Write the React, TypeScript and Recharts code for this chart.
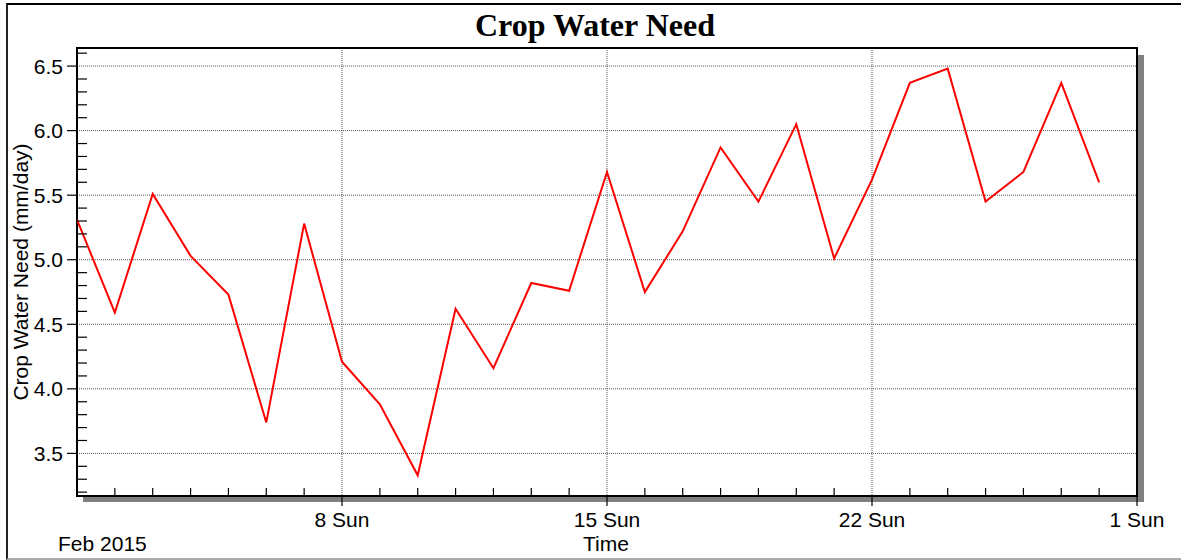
import { LineChart, Line, XAxis, YAxis, CartesianGrid, ReferenceArea } from "recharts"

// days of Feb 2015
const days = [1, 2, 3, 4, 5, 6, 7, 8, 9, 10, 11, 12, 13, 14, 15, 16, 17, 18, 19, 20, 21, 22, 23, 24, 25, 26, 27, 28]
const waterNeed = [
  5.31, 4.59, 5.51, 5.03, 4.73, 3.74, 5.28, 4.21, 3.88, 3.33, 4.62, 4.16, 4.82, 4.76,
  5.68, 4.75, 5.22, 5.87, 5.45, 6.05, 5.01, 5.62, 6.37, 6.48, 5.45, 5.68, 6.37, 5.6
]

const xTicks = [2, 3, 4, 5, 6, 7, 8, 9, 10, 11, 12, 13, 14, 15, 16, 17, 18, 19, 20, 21, 22, 23, 24, 25, 26, 27, 28, 29]
const xMajor = [8, 15, 22, 29]
const xMajorLabels = ["8 Sun", "15 Sun", "22 Sun", "1 Sun"]

const yTicks = [3.2, 3.3, 3.4, 3.5, 3.6, 3.7, 3.8, 3.9, 4.0, 4.1, 4.2, 4.3, 4.4, 4.5, 4.6, 4.7, 4.8, 4.9, 5.0, 5.1, 5.2, 5.3, 5.4, 5.5, 5.6, 5.7, 5.8, 5.9, 6.0, 6.1, 6.2, 6.3, 6.4, 6.5, 6.6]
const yMajor = [3.5, 4.0, 4.5, 5.0, 5.5, 6.0, 6.5]
const yDomain = [3.17, 6.64]

const data = days.map((d, i) => ({ day: d, need: waterNeed[i] }))

const sans = "'Liberation Sans', Arial, sans-serif"

const XTick = (props: any) => {
  const { x, y, payload } = props
  const idx = xMajor.indexOf(payload.value)
  if (idx >= 0) {
    return (
      <g>
        <line x1={x} x2={x} y1={y} y2={y + 10} stroke="#000" strokeWidth={1.2} />
        <text x={x} y={y + 31} textAnchor="middle" fontFamily={sans} fontSize={21} fill="#000">
          {xMajorLabels[idx]}
        </text>
      </g>
    )
  }
  return <line x1={x} x2={x} y1={y} y2={y - 8} stroke="#000" strokeWidth={1.2} />
}

const YTick = (props: any) => {
  const { x, y, payload } = props
  if (yMajor.includes(payload.value)) {
    return (
      <g>
        <line x1={x - 10} x2={x} y1={y} y2={y} stroke="#000" strokeWidth={1.2} />
        <text x={x - 14} y={y} dy="0.36em" textAnchor="end" fontFamily={sans} fontSize={21} fill="#000">
          {payload.value.toFixed(1)}
        </text>
      </g>
    )
  }
  return <line x1={x} x2={x + 10} y1={y} y2={y} stroke="#000" strokeWidth={1.2} />
}

export default function App() {
  return (
    <div style={{ position: "absolute", left: 0, top: 0, width: 1181, height: 560, background: "#fff", overflow: "hidden" }}>
      {/* frame */}
      <div style={{
        position: "absolute", left: 6, top: 3, width: 1200, height: 557, boxSizing: "border-box",
        borderTop: "2px solid #000", borderLeft: "2px solid #222", borderBottom: "2px solid #aaa"
      }} />
      {/* plot shadow */}
      <div style={{ position: "absolute", left: 1137, top: 55, width: 7, height: 447, background: "#808080" }} />
      <div style={{ position: "absolute", left: 83, top: 496, width: 1061, height: 6, background: "#808080" }} />

      <div style={{
        position: "absolute", left: 0, width: 1181, top: 8, textAlign: "center", paddingLeft: 9, boxSizing: "border-box",
        fontFamily: "'Liberation Serif', 'Times New Roman', serif", fontWeight: "bold", fontSize: 32, lineHeight: "35px"
      }}>
        Crop Water Need
      </div>

      <div style={{ position: "absolute", left: 0, top: 0 }}>
        <LineChart width={1181} height={560} data={data} margin={{ top: 48, right: 44, bottom: 0, left: 0 }}>
          <CartesianGrid
            horizontalValues={yMajor}
            verticalValues={[8, 15, 22]}
            stroke="#555"
            strokeDasharray="1 1"
          />
          <XAxis
            dataKey="day"
            type="number"
            domain={[1, 29]}
            ticks={xTicks}
            interval={0}
            tick={<XTick />}
            tickLine={false}
            axisLine={false}
            tickSize={0}
            tickMargin={0}
            height={64}
            allowDataOverflow
          />
          <YAxis
            type="number"
            domain={yDomain}
            ticks={yTicks}
            interval={0}
            tick={<YTick />}
            tickLine={false}
            axisLine={false}
            tickSize={0}
            tickMargin={0}
            width={77}
            allowDataOverflow
          />
          <Line
            type="linear"
            dataKey="need"
            stroke="#ff0000"
            strokeWidth={2}
            dot={false}
            isAnimationActive={false}
          />
          <ReferenceArea
            x1={1}
            x2={29}
            y1={yDomain[0]}
            y2={yDomain[1]}
            fill="none"
            stroke="#000"
            strokeWidth={2}
            ifOverflow="visible"
          />
        </LineChart>
      </div>

      <div style={{
        position: "absolute", left: 21, top: 272, width: 0, height: 0, overflow: "visible"
      }}>
        <div style={{
          position: "absolute", transform: "translate(-50%, -50%) rotate(-90deg)", whiteSpace: "nowrap",
          fontFamily: sans, fontSize: 21, lineHeight: "22px"
        }}>
          Crop Water Need (mm/day)
        </div>
      </div>

      <div style={{ position: "absolute", left: 606, top: 532, transform: "translateX(-50%)", fontFamily: sans, fontSize: 21, lineHeight: "24px" }}>
        Time
      </div>
      <div style={{ position: "absolute", left: 58, top: 532, fontFamily: sans, fontSize: 21, lineHeight: "24px" }}>
        Feb 2015
      </div>
    </div>
  )
}
